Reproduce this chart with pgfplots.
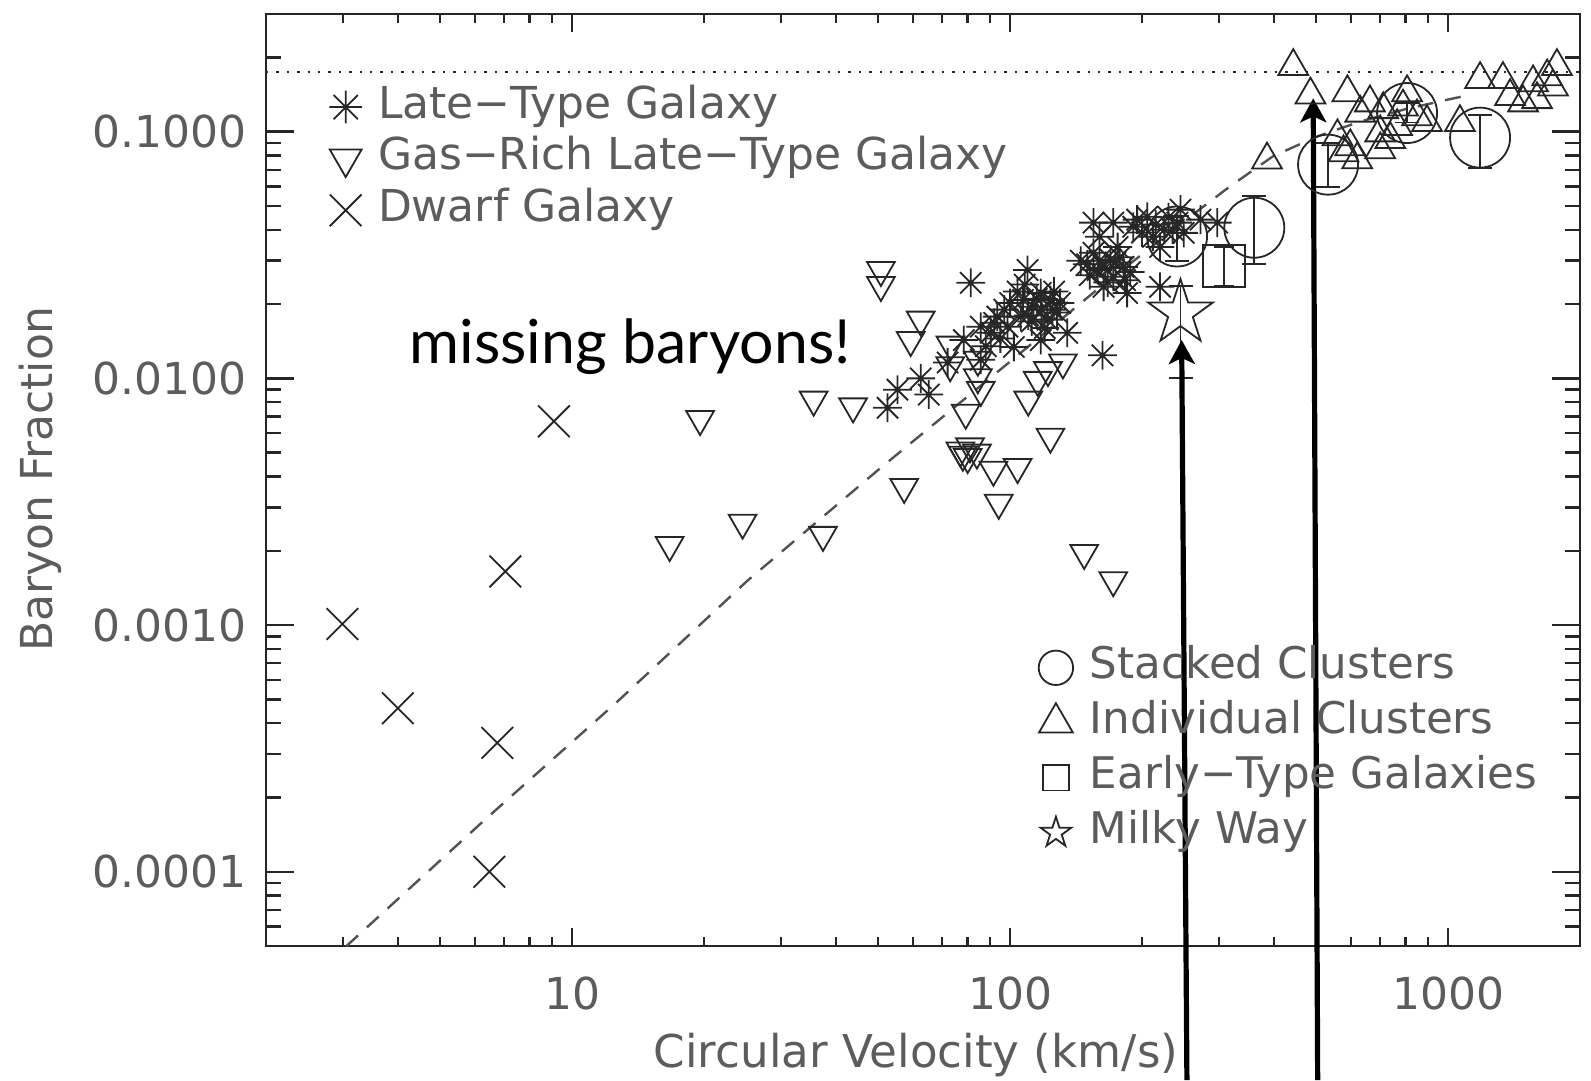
\documentclass[border=0pt]{standalone}
\usepackage{pgfplots}
\pgfplotsset{compat=1.18}
\usepackage{fontspec}
\setmainfont{DejaVu Sans}
\newfontfamily\gill{Lato}
\usetikzlibrary{arrows.meta}
\definecolor{ink}{gray}{0.15}
\definecolor{txt}{gray}{0.36}

\pgfdeclareplotmark{ostar}{%
  \pgfpathmoveto{\pgfqpointpolar{90}{\pgfplotmarksize}}%
  \pgfpathlineto{\pgfqpointpolar{126}{0.382\pgfplotmarksize}}%
  \pgfpathlineto{\pgfqpointpolar{162}{\pgfplotmarksize}}%
  \pgfpathlineto{\pgfqpointpolar{198}{0.382\pgfplotmarksize}}%
  \pgfpathlineto{\pgfqpointpolar{234}{\pgfplotmarksize}}%
  \pgfpathlineto{\pgfqpointpolar{270}{0.382\pgfplotmarksize}}%
  \pgfpathlineto{\pgfqpointpolar{306}{\pgfplotmarksize}}%
  \pgfpathlineto{\pgfqpointpolar{342}{0.382\pgfplotmarksize}}%
  \pgfpathlineto{\pgfqpointpolar{18}{\pgfplotmarksize}}%
  \pgfpathlineto{\pgfqpointpolar{54}{0.382\pgfplotmarksize}}%
  \pgfpathclose
  \pgfusepathqstroke}
\pgfdeclareplotmark{ast}{%
  \pgfpathmoveto{\pgfqpoint{0pt}{\pgfplotmarksize}}%
  \pgfpathlineto{\pgfqpoint{0pt}{-\pgfplotmarksize}}%
  \pgfpathmoveto{\pgfqpoint{\pgfplotmarksize}{0pt}}%
  \pgfpathlineto{\pgfqpoint{-\pgfplotmarksize}{0pt}}%
  \pgfpathmoveto{\pgfqpoint{0.74\pgfplotmarksize}{0.74\pgfplotmarksize}}%
  \pgfpathlineto{\pgfqpoint{-0.74\pgfplotmarksize}{-0.74\pgfplotmarksize}}%
  \pgfpathmoveto{\pgfqpoint{-0.74\pgfplotmarksize}{0.74\pgfplotmarksize}}%
  \pgfpathlineto{\pgfqpoint{0.74\pgfplotmarksize}{-0.74\pgfplotmarksize}}%
  \pgfusepathqstroke}

\pgfplotsset{
  bfmk/.style={only marks, draw=ink, line width=0.45pt, mark options={draw=ink, line width=0.45pt, fill=none}},
  bfleg/.style={legend image code/.code={\draw[##1] plot coordinates {(0pt,0pt)};}},
}

\begin{document}
\begin{tikzpicture}
\begin{axis}[
  xmode=log, ymode=log, xmin=2, xmax=2000, ymin=5e-5, ymax=0.3,
  scale only axis, width=328.5pt, height=233pt,
  axis line style={ink, line width=0.7pt},
  tick style={ink, line width=0.6pt},
  tick align=inside,
  major tick length=4.5pt, minor tick length=2.3pt,
  xtick={10,100,1000}, xticklabels={10,100,1000},
  ytick={1e-4,1e-3,1e-2,1e-1}, yticklabels={0.0001,0.0010,0.0100,0.1000},
  minor xtick={3,4,5,6,7,8,9,20,30,40,50,60,70,80,90,200,300,400,500,600,700,800,900},
  minor ytick={6e-5,7e-5,8e-5,9e-5,2e-4,3e-4,4e-4,5e-4,6e-4,7e-4,8e-4,9e-4,2e-3,3e-3,4e-3,5e-3,6e-3,7e-3,8e-3,9e-3,2e-2,3e-2,4e-2,5e-2,6e-2,7e-2,8e-2,9e-2,0.2},
  xticklabel style={font=\fontsize{11}{13}\selectfont, text=txt, anchor=base, yshift=-15.9pt, inner sep=0pt},
  yticklabel style={font=\fontsize{11}{13}\selectfont, text=txt, anchor=east, xshift=-4.6pt, inner sep=0pt},
  xlabel={Circular Velocity (km/s)}, ylabel={Baryon Fraction},
  every axis x label/.style={at={(rel axis cs:0.4947,-0.1304)}, anchor=base, font=\fontsize{11.3}{13}\selectfont, text=txt, inner sep=0pt},
  every axis y label/.style={at={(rel axis cs:-0.1715,0.501)}, rotate=90, anchor=center, font=\fontsize{11}{13}\selectfont, text=txt, inner sep=0pt},
  legend style={draw=none, fill=none, at={(0.0476,0.9235)}, anchor=north west, inner sep=0pt, row sep=2.4pt, column sep=4pt,
    nodes={inner sep=0pt, text height=8pt, text depth=2.5pt, text=txt, font=\fontsize{11}{13}\selectfont}},
  legend cell align=left,
]
\addlegendimage{bfmk, bfleg, mark=ast, mark size=4.1pt}
\addlegendentry{Late−Type Galaxy}
\addlegendimage{bfmk, bfleg, mark=triangle, mark size=4.6pt, mark options={rotate=180}}
\addlegendentry{Gas−Rich Late−Type Galaxy}
\addlegendimage{bfmk, bfleg, mark=x, mark size=5.6pt}
\addlegendentry{Dwarf Galaxy}

% cosmic baryon fraction
\addplot[ink, dotted, line width=0.6pt, forget plot] coordinates {(2,0.175) (2000,0.175)};
% model curve
\addplot[ink!80, dash pattern=on 4pt off 3pt, line width=0.6pt, forget plot] coordinates {
(3.05,4.99e-5) (6.31,1.62e-4) (12.6,4.84e-4) (25.1,1.51e-3) (50.1,4.27e-3)
(100,1.17e-2) (158,2.29e-2) (251,4.37e-2) (316,5.96e-2) (398,7.94e-2)
(501,9.55e-2) (631,0.110) (794,0.123) (1000,0.135) (1122,0.141)};

% late-type galaxies
\addplot[bfmk, mark=ast, mark size=3.6pt, forget plot] coordinates {
(52.5,0.0076) (55.3,0.0090) (62.5,0.0100) (65.2,0.0086) (72,0.0116) (78.4,0.0143)
(81.3,0.0244) (85.7,0.0162) (85.7,0.0119) (88,0.0135) (90.3,0.0153) (93.5,0.0178)
(95,0.0145) (98.6,0.0162) (100,0.0202) (102,0.0134) (104,0.0225) (105.7,0.0178)
(107,0.0208) (109.6,0.0275) (110,0.018) (113,0.0195) (115,0.021) (117.5,0.0222)
(117.5,0.0143) (120,0.016) (121.7,0.0173) (123.6,0.0208) (125,0.019) (128,0.0185)
(130,0.0202) (135,0.0153) (150,0.029) (155,0.0428) (155,0.0323) (158.5,0.0275)
(160,0.0375) (162.5,0.0124) (163.5,0.0235) (165,0.028) (169.5,0.0303) (172,0.0428)
(172,0.0258) (176,0.0341) (178,0.031) (181.5,0.0283) (185,0.0222) (188,0.027)
(191,0.0412) (200,0.039) (205.6,0.0452) (212,0.0375) (220,0.0341) (220,0.0235)
(225,0.040) (230,0.045) (241,0.0428) (245,0.0483) (249,0.0389) (272,0.0440) (297,0.0428)
(108,0.0240) (112,0.0170) (118,0.0190) (97,0.0190) (92,0.0168) (126,0.0225)
(152,0.0262) (167,0.0245) (174,0.0295) (183,0.0250) (195,0.0440) (215,0.0420)
(235,0.0400) (160,0.0300) (145,0.0300)};

% gas-rich late-type galaxies
\addplot[bfmk, mark=triangle, mark size=4pt, mark options={rotate=180}, forget plot] coordinates {
(16.7,0.00211) (19.6,0.00684) (24.5,0.0026) (35.6,0.0082) (37.4,0.00232) (43.8,0.0077)
(50.7,0.0275) (50.7,0.0239) (57.3,0.00363) (59.3,0.0143) (62.5,0.0173) (73,0.0113)
(73.1,0.0137) (77,0.0051) (79.2,0.00725) (80,0.0048) (84,0.0050) (84.4,0.0119)
(84.4,0.0101) (85.7,0.00898) (91.6,0.00426) (94.2,0.00313) (104,0.00437) (110,0.0082)
(115.6,0.00986) (122,0.0108) (123.6,0.0058) (132,0.0116) (147.6,0.00196) (172,0.00152)
(81,0.0053) (78,0.0049)};

% dwarf galaxies
\addplot[bfmk, mark=x, mark size=5.6pt, forget plot] coordinates {
(2.99,0.00101) (4.0,0.00046) (6.47,0.0001) (6.75,0.000333) (7.04,0.00165) (9.09,0.0067)};
\end{axis}

\begin{axis}[
  xmode=log, ymode=log, xmin=2, xmax=2000, ymin=5e-5, ymax=0.3,
  scale only axis, width=328.5pt, height=233pt,
  clip=false,
  axis line style={draw=none},
  xtick=\empty, xmajorticks=false, xminorticks=false,
  tick style={ink, line width=0.6pt},
  tick align=inside,
  major tick length=7pt, minor tick length=3.75pt,
  ytick={1e-4,1e-3,1e-2,1e-1}, yticklabels={},
  minor ytick={6e-5,7e-5,8e-5,9e-5,2e-4,3e-4,4e-4,5e-4,6e-4,7e-4,8e-4,9e-4,2e-3,3e-3,4e-3,5e-3,6e-3,7e-3,8e-3,9e-3,2e-2,3e-2,4e-2,5e-2,6e-2,7e-2,8e-2,9e-2,0.2},
  legend style={draw=none, fill=none, at={(0.5875,0.3219)}, anchor=north west, inner sep=0pt, row sep=3.25pt, column sep=4.2pt,
    nodes={inner sep=0pt, text height=8pt, text depth=2.5pt, text=txt, font=\fontsize{10.9}{13}\selectfont}},
  legend cell align=left,
]
\addlegendimage{bfmk, bfleg, mark=o, mark size=4.3pt}
\addlegendentry{Stacked Clusters}
\addlegendimage{bfmk, bfleg, mark=triangle, mark size=4.9pt}
\addlegendentry{Individual Clusters}
\addlegendimage{bfmk, bfleg, mark=square, mark size=3.2pt}
\addlegendentry{Early−Type Galaxies}
\addlegendimage{bfmk, bfleg, mark=ostar, mark size=4pt}
\addlegendentry{Milky Way}

% individual clusters
\addplot[bfmk, mark=triangle, mark size=4.3pt, forget plot] coordinates {
(386,0.0769) (443,0.184) (485,0.141) (559,0.0955) (577,0.0822) (589,0.144) (598,0.087)
(620,0.077) (630,0.119) (663,0.131) (700,0.099) (700,0.0845) (711,0.123) (738,0.093)
(765,0.105) (789,0.126) (806,0.144) (849,0.115) (895,0.109) (1064,0.109) (1183,0.163)
(1334,0.163) (1385,0.139) (1483,0.131) (1563,0.158) (1596,0.135) (1683,0.167)
(1735,0.152) (1772,0.184)};

% stacked clusters
\addplot[bfmk, mark=o, mark size=7.5pt, forget plot,
  error bars/.cd, y dir=both, y explicit, error bar style={ink, line width=0.45pt},
  error mark options={ink, line width=0.45pt, mark size=3pt, rotate=90}]
  table[x=x, y=y, y error plus=ep, y error minus=em] {
x y ep em
240.5 0.0376 0.008 0.0076
361 0.0408 0.0142 0.0117
532 0.0735 0.0168 0.0137
806 0.119 0.012 0.010
1183 0.0946 0.0224 0.0232
};

% early-type galaxies
\addplot[bfmk, mark=square, mark size=5.2pt, forget plot,
  error bars/.cd, y dir=both, y explicit, error bar style={ink, line width=0.45pt},
  error mark options={ink, line width=0.45pt, mark size=2.5pt, rotate=90}]
  table[x=x, y=y, y error plus=ep, y error minus=em] {
x y ep em
308 0.0285 0.0056 0.0049
};

% Milky Way
\addplot[bfmk, mark=ostar, mark size=8.5pt, forget plot,
  error bars/.cd, y dir=both, y explicit, error bar style={ink, line width=0.45pt},
  error mark options={ink, line width=0.45pt, mark size=3pt, rotate=90}]
  table[x=x, y=y, y error plus=ep, y error minus=em] {
x y ep em
244.9 0.0184 0.0052 0.0084
};

\node[anchor=base west, inner sep=0pt, font=\gill\fontsize{15.2}{18}\selectfont, text=black] at (rel axis cs:0.1088,0.6255) {missing baryons!};
\draw[black, line width=1.3pt, -{Stealth[length=6pt, width=6.5pt, inset=1.5pt]}] (rel axis cs:0.7009,-0.1438) -- (rel axis cs:0.6969,0.6502);
\draw[black, line width=1.3pt, -{Stealth[length=6pt, width=6.5pt, inset=1.5pt]}] (rel axis cs:0.8004,-0.1438) -- (rel axis cs:0.7970,0.9095);
\coordinate (BL) at (rel axis cs:-0.2024,-0.1438);
\coordinate (TR) at (rel axis cs:1.0084,1.0150);
\end{axis}
\pgfresetboundingbox
\useasboundingbox (BL) rectangle (TR);
\end{tikzpicture}
\end{document}
